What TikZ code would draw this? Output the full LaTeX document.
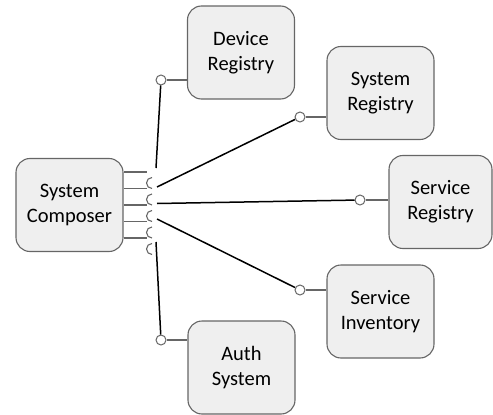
\documentclass[tikz,border=0pt]{standalone}
\usepackage{fontspec}
\setmainfont{Carlito}
\definecolor{boxfill}{HTML}{EFEFEF}
\definecolor{boxline}{HTML}{666666}
\begin{document}
\begin{tikzpicture}[x=1pt,y=-1pt,
  comp/.style={draw=boxline, fill=boxfill, line width=1.1pt, rounded corners=14pt,
    minimum width=107pt, minimum height=93pt, inner sep=0pt, align=center,
    font=\fontsize{20.5}{25}\selectfont},
  lolli/.style={circle, draw=boxline, fill=white, line width=1pt, minimum size=10pt, inner sep=0pt},
  stub/.style={draw=boxline, line width=1.1pt},
  conn/.style={draw=black, line width=1.5pt}]
\useasboundingbox (0,0) rectangle (493,415);
% components
\node[comp] (composer) at (69.5,205) {System\\Composer};
\node[comp] (device) at (241,52.5) {Device\\Registry};
\node[comp] (sysreg) at (380.5,93) {System\\Registry};
\node[comp, minimum width=103pt] (servreg) at (440.5,202) {Service\\Registry};
\node[comp] (servinv) at (380.5,311.5) {Service\\Inventory};
\node[comp] (auth) at (241.5,367.5) {Auth\\System};
% lollipops (provided interfaces)
\node[lolli] (pd) at (161,80) {};
\node[lolli] (ps) at (300,117) {};
\node[lolli] (pr) at (360,200) {};
\node[lolli] (pi) at (300,290) {};
\node[lolli] (pa) at (161,340) {};
\draw[stub] (pd) -- (device.west |- pd);
\draw[stub] (ps) -- (sysreg.west |- ps);
\draw[stub] (pr) -- (servreg.west |- pr);
\draw[stub] (pi) -- (servinv.west |- pi);
\draw[stub] (pa) -- (auth.west |- pa);
% sockets (required interfaces)
\foreach \i/\y in {1/172,2/188.5,3/205,4/221.5,5/238}{
  \coordinate (s\i) at (152,\y);
  \draw[stub] (composer.east |- s\i) -- ([xshift=-5.5pt]s\i);
  \draw[stub] ([yshift=-5.5pt]s\i) arc[start angle=90, end angle=270, radius=5.5pt];
}
% connectors
\coordinate (c1) at (156,168);
\coordinate (c2) at (157,187);
\coordinate (c3) at (157,203.5);
\coordinate (c4) at (157,219);
\coordinate (c5) at (156,242);
\draw[conn] (c1) -- (pd);
\draw[conn] (c2) -- (ps);
\draw[conn] (c3) -- (pr);
\draw[conn] (c4) -- (pi);
\draw[conn] (c5) -- (pa);
\end{tikzpicture}
\end{document}
